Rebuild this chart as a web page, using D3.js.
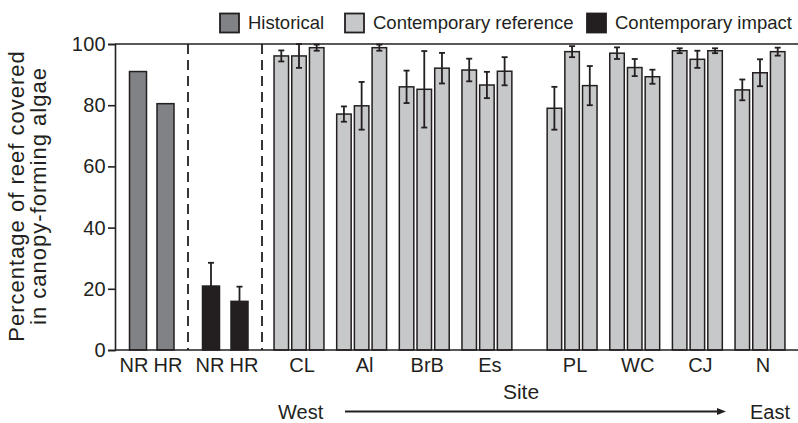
<!DOCTYPE html>
<html>
<head>
<meta charset="utf-8">
<script src="https://cdn.jsdelivr.net/npm/d3@7"></script>
<style>
  html, body { margin: 0; padding: 0; background: #fff; }
  svg { display: block; font-family: "Liberation Sans", Arial, Helvetica, sans-serif; }
</style>
</head>
<body>
<svg id="chart" width="798" height="423"></svg>
<script>
// ---------- data ----------
const histCats = ["NR", "HR"];
const histValues = [91, 80.5];
const impactCats = ["NR", "HR"];
const impactValues = [20.9, 15.9];
const impactErr = [7.6, 4.8];
const sites = ["CL", "Al", "BrB", "Es", "PL", "WC", "CJ", "N"];
const refValues = [
  [96.1, 96.1, 98.8],
  [77.1, 79.8, 98.8],
  [86.0, 85.2, 92.1],
  [91.5, 86.6, 91.1],
  [79.0, 97.5, 86.4],
  [97.0, 92.3, 89.3],
  [97.8, 95.0, 97.8],
  [85.0, 90.6, 97.5]
];
const refErr = [
  [1.8, 3.9, 1.0],
  [2.5, 7.8, 1.0],
  [5.3, 12.5, 5.0],
  [3.7, 4.3, 4.6],
  [7.0, 1.8, 6.4],
  [1.9, 2.8, 2.3],
  [0.8, 2.8, 0.8],
  [3.4, 4.4, 1.3]
];
const yTicks = [0, 20, 40, 60, 80, 100];
const legendLabels = ["Historical", "Contemporary reference", "Contemporary impact"];

// ---------- styles ----------
const INK = "#231f20";
const C_HIST = "#808285";
const C_REF = "#c7c8ca";
const C_IMP = "#231f20";

const svg = d3.select("#chart");

// ---------- scales ----------
const plotLeft = 115, plotRight = 798, plotTop = 44, plotBottom = 350;
const y = d3.scaleLinear().domain([0, 100]).range([plotBottom, plotTop]);

const xHist = d3.scalePoint().domain(histCats).range([138, 165.5]);
const xImp = d3.scalePoint().domain(impactCats).range([211, 239.5]);
const xHistLab = d3.scalePoint().domain(histCats).range([134, 168]);
const xImpLab = d3.scalePoint().domain(impactCats).range([210, 244]);
const sideBarW = 17;

// site groups: gap between West (first four) and East (last four) sites
const gapAfter = 3, extraGap = 0.36;
const groupPos = i => i + (i > gapAfter ? extraGap : 0);
const xSite = d3.scaleLinear().domain([0, groupPos(sites.length - 1)]).range([299, 760]);
const xWithin = d3.scalePoint().domain([0, 1, 2]).range([-17.7, 17.7]);
const refBarW = 14.5;

// ---------- frame ----------
svg.append("line")
  .attr("x1", plotLeft).attr("x2", plotRight)
  .attr("y1", y(100)).attr("y2", y(100))
  .attr("stroke", INK).attr("stroke-width", 1.6);

// dashed separators
[188, 262].forEach(xx => {
  svg.append("line")
    .attr("x1", xx).attr("x2", xx)
    .attr("y1", y(100)).attr("y2", y(0))
    .attr("stroke", INK).attr("stroke-width", 1.8)
    .attr("stroke-dasharray", "10,6");
});

// ---------- bars ----------
function errBar(g, cx, v, e) {
  const cap = 3;
  g.append("line").attr("x1", cx).attr("x2", cx)
    .attr("y1", y(Math.min(100, v + e))).attr("y2", y(v - e))
    .attr("stroke", INK).attr("stroke-width", 1.8);
  [v + e, v - e].forEach(t => {
    g.append("line").attr("x1", cx - cap).attr("x2", cx + cap)
      .attr("y1", y(t)).attr("y2", y(t))
      .attr("stroke", INK).attr("stroke-width", 1.8);
  });
}

const gBars = svg.append("g");

// historical
gBars.selectAll("rect.hist").data(histValues).enter().append("rect")
  .attr("class", "hist")
  .attr("x", (d, i) => xHist(histCats[i]) - sideBarW / 2)
  .attr("width", sideBarW)
  .attr("y", d => y(d))
  .attr("height", d => y(0) - y(d))
  .attr("fill", C_HIST).attr("stroke", INK).attr("stroke-width", 1.5);

// contemporary impact
impactValues.forEach((v, i) => {
  errBar(gBars, xImp(impactCats[i]), v, impactErr[i]);
});
gBars.selectAll("rect.imp").data(impactValues).enter().append("rect")
  .attr("class", "imp")
  .attr("x", (d, i) => xImp(impactCats[i]) - sideBarW / 2)
  .attr("width", sideBarW)
  .attr("y", d => y(d))
  .attr("height", d => y(0) - y(d))
  .attr("fill", C_IMP).attr("stroke", INK).attr("stroke-width", 1.5);

// contemporary reference
sites.forEach((s, gi) => {
  const cx0 = xSite(groupPos(gi));
  refValues[gi].forEach((v, j) => {
    const cx = cx0 + xWithin(j);
    gBars.append("rect")
      .attr("x", cx - refBarW / 2).attr("width", refBarW)
      .attr("y", y(v)).attr("height", y(0) - y(v))
      .attr("fill", C_REF).attr("stroke", INK).attr("stroke-width", 1.5);
    errBar(gBars, cx, v, refErr[gi][j]);
  });
});

// ---------- axes ----------
const yAxis = d3.axisLeft(y).tickValues(yTicks).tickSize(7).tickPadding(2);
const gy = svg.append("g").attr("transform", `translate(${plotLeft},0)`).call(yAxis);
gy.select(".domain").attr("stroke", INK).attr("stroke-width", 1.6);
gy.selectAll(".tick line").attr("stroke", INK).attr("stroke-width", 1.6);
gy.selectAll(".tick text").attr("fill", INK)
  .style("font-size", "20px").style("font-family", "Liberation Sans, Arial, sans-serif")
  .style("letter-spacing", "0.3px");

svg.append("line")
  .attr("x1", plotLeft).attr("x2", plotRight)
  .attr("y1", y(0)).attr("y2", y(0))
  .attr("stroke", INK).attr("stroke-width", 1.6);

// x labels
const labelY = 372;
const xl = svg.append("g").attr("fill", INK).style("font-size", "20px").attr("text-anchor", "middle");
histCats.forEach(c => xl.append("text").attr("x", xHistLab(c)).attr("y", labelY).text(c));
impactCats.forEach(c => xl.append("text").attr("x", xImpLab(c)).attr("y", labelY).text(c));
sites.forEach((s, gi) => xl.append("text").attr("x", xSite(groupPos(gi)) + 3).attr("y", labelY).text(s));

// axis titles
svg.append("text").attr("x", 521).attr("y", 398.5).attr("text-anchor", "middle")
  .attr("fill", INK).style("font-size", "21px").text("Site");

const yt = svg.append("text")
  .attr("transform", "translate(0,196) rotate(-90)")
  .attr("text-anchor", "middle").attr("fill", INK)
  .style("font-size", "22px").style("letter-spacing", "1px");
yt.append("tspan").attr("x", 0).attr("y", 24).text("Percentage of reef covered");
yt.append("tspan").attr("x", 0).attr("y", 46).text("in canopy-forming algae");

// West -> East arrow
svg.append("text").attr("x", 278).attr("y", 419).attr("fill", INK)
  .style("font-size", "20px").text("West");
svg.append("text").attr("x", 750).attr("y", 419).attr("fill", INK)
  .style("font-size", "20px").text("East");
svg.append("line").attr("x1", 345).attr("x2", 719).attr("y1", 411.5).attr("y2", 411.5)
  .attr("stroke", INK).attr("stroke-width", 1.8);
svg.append("path").attr("d", "M717,408 L726,411.5 L717,415 Z").attr("fill", INK);

// ---------- legend ----------
const legendColors = [C_HIST, C_REF, C_IMP];
const legendBoxX = [220, 345, 587];
const lg = svg.append("g");
legendLabels.forEach((lab, i) => {
  lg.append("rect").attr("x", legendBoxX[i]).attr("y", 13.5).attr("width", 19).attr("height", 19)
    .attr("fill", legendColors[i]).attr("stroke", INK).attr("stroke-width", 1.8);
  lg.append("text").attr("x", legendBoxX[i] + 28).attr("y", 28.5).attr("fill", INK)
    .style("font-size", "18.5px").text(lab);
});
</script>
</body>
</html>
